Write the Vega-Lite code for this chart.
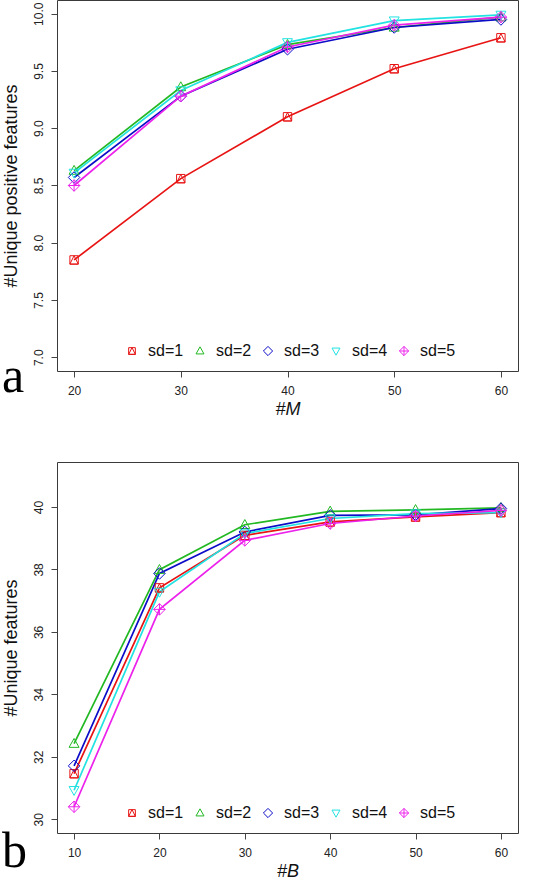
{
  "$schema": "https://vega.github.io/schema/vega-lite/v6.json",
  "padding": {"left": 1, "top": -1, "right": 0, "bottom": 0},
  "spacing": 42,
  "datasets": {
    "panelA": [
      {"M": 20, "sd": "sd=1", "value": 7.85}, {"M": 30, "sd": "sd=1", "value": 8.56}, {"M": 40, "sd": "sd=1", "value": 9.10}, {"M": 50, "sd": "sd=1", "value": 9.52}, {"M": 60, "sd": "sd=1", "value": 9.79},
      {"M": 20, "sd": "sd=2", "value": 8.63}, {"M": 30, "sd": "sd=2", "value": 9.36}, {"M": 40, "sd": "sd=2", "value": 9.73}, {"M": 50, "sd": "sd=2", "value": 9.88}, {"M": 60, "sd": "sd=2", "value": 9.97},
      {"M": 20, "sd": "sd=3", "value": 8.57}, {"M": 30, "sd": "sd=3", "value": 9.28}, {"M": 40, "sd": "sd=3", "value": 9.69}, {"M": 50, "sd": "sd=3", "value": 9.88}, {"M": 60, "sd": "sd=3", "value": 9.95},
      {"M": 20, "sd": "sd=4", "value": 8.61}, {"M": 30, "sd": "sd=4", "value": 9.33}, {"M": 40, "sd": "sd=4", "value": 9.75}, {"M": 50, "sd": "sd=4", "value": 9.94}, {"M": 60, "sd": "sd=4", "value": 9.99},
      {"M": 20, "sd": "sd=5", "value": 8.50}, {"M": 30, "sd": "sd=5", "value": 9.28}, {"M": 40, "sd": "sd=5", "value": 9.71}, {"M": 50, "sd": "sd=5", "value": 9.90}, {"M": 60, "sd": "sd=5", "value": 9.97}
    ],
    "panelB": [
      {"B": 10, "sd": "sd=1", "value": 31.46}, {"B": 20, "sd": "sd=1", "value": 37.41}, {"B": 30, "sd": "sd=1", "value": 39.09}, {"B": 40, "sd": "sd=1", "value": 39.52}, {"B": 50, "sd": "sd=1", "value": 39.68}, {"B": 60, "sd": "sd=1", "value": 39.82},
      {"B": 10, "sd": "sd=2", "value": 32.42}, {"B": 20, "sd": "sd=2", "value": 37.99}, {"B": 30, "sd": "sd=2", "value": 39.43}, {"B": 40, "sd": "sd=2", "value": 39.86}, {"B": 50, "sd": "sd=2", "value": 39.91}, {"B": 60, "sd": "sd=2", "value": 39.97},
      {"B": 10, "sd": "sd=3", "value": 31.71}, {"B": 20, "sd": "sd=3", "value": 37.87}, {"B": 30, "sd": "sd=3", "value": 39.20}, {"B": 40, "sd": "sd=3", "value": 39.73}, {"B": 50, "sd": "sd=3", "value": 39.75}, {"B": 60, "sd": "sd=3", "value": 39.95},
      {"B": 10, "sd": "sd=4", "value": 30.93}, {"B": 20, "sd": "sd=4", "value": 37.28}, {"B": 30, "sd": "sd=4", "value": 39.15}, {"B": 40, "sd": "sd=4", "value": 39.63}, {"B": 50, "sd": "sd=4", "value": 39.79}, {"B": 60, "sd": "sd=4", "value": 39.82},
      {"B": 10, "sd": "sd=5", "value": 30.40}, {"B": 20, "sd": "sd=5", "value": 36.72}, {"B": 30, "sd": "sd=5", "value": 38.93}, {"B": 40, "sd": "sd=5", "value": 39.47}, {"B": 50, "sd": "sd=5", "value": 39.71}, {"B": 60, "sd": "sd=5", "value": 39.89}
    ]
  },
  "vconcat": [
    {
      "width": 461,
      "height": 371,
      "data": {"name": "panelA"},
      "title": {"text": "a", "dy": -70},
      "encoding": {
        "x": {"field": "M", "type": "quantitative", "title": "#M",
              "scale": {"domain": [18.4, 61.6], "nice": false, "zero": false},
              "axis": {"values": [20, 30, 40, 50, 60]}},
        "y": {"field": "value", "type": "quantitative", "title": "#Unique positive features",
              "scale": {"domain": [6.88, 10.12], "nice": false, "zero": false},
              "axis": {"values": [7, 7.5, 8, 8.5, 9, 9.5, 10], "format": ".1f"}},
        "color": {"field": "sd", "type": "nominal",
          "scale": {"domain": ["sd=1", "sd=2", "sd=3", "sd=4", "sd=5"], "range": ["#e81414", "#22b822", "#0c0cc8", "#22e2e2", "#ec22ec"]},
          "legend": {"orient": "none", "legendX": 67, "legendY": 343, "direction": "horizontal", "title": null}}
      },
      "layer": [
        {"mark": {"type": "line", "strokeWidth": 1.7}},
        {"mark": {"type": "point", "filled": false, "size": 110, "strokeWidth": 1, "opacity": 1},
         "encoding": {
           "shape": {"field": "sd", "type": "nominal",
             "scale": {"domain": ["sd=1", "sd=2", "sd=3", "sd=4", "sd=5"],
                       "range": ["M-0.8,-0.8H0.8V0.8H-0.8Z M0,-0.8L0.8,0.8H-0.8Z", "M0,-1L0.95,0.7H-0.95Z", "M0,-1.1L1.1,0L0,1.1L-1.1,0Z", "M0,1L0.95,-0.7H-0.95Z", "M0,-1.1L1.1,0L0,1.1L-1.1,0Z M0,-1.1V1.1 M-1.1,0H1.1"]},
             "legend": {"orient": "none", "legendX": 67, "legendY": 343, "direction": "horizontal", "title": null}}}}
      ]
    },
    {
      "width": 461,
      "height": 371,
      "data": {"name": "panelB"},
      "title": {"text": "b", "dy": -57},
      "encoding": {
        "x": {"field": "B", "type": "quantitative", "title": "#B",
              "scale": {"domain": [8, 62], "nice": false, "zero": false},
              "axis": {"values": [10, 20, 30, 40, 50, 60]}},
        "y": {"field": "value", "type": "quantitative", "title": "#Unique features",
              "scale": {"domain": [29.56, 41.44], "nice": false, "zero": false},
              "axis": {"values": [30, 32, 34, 36, 38, 40]}},
        "color": {"field": "sd", "type": "nominal",
          "scale": {"domain": ["sd=1", "sd=2", "sd=3", "sd=4", "sd=5"], "range": ["#e81414", "#22b822", "#0c0cc8", "#22e2e2", "#ec22ec"]},
          "legend": {"orient": "none", "legendX": 67, "legendY": 343, "direction": "horizontal", "title": null}}
      },
      "layer": [
        {"mark": {"type": "line", "strokeWidth": 1.7}},
        {"mark": {"type": "point", "filled": false, "size": 110, "strokeWidth": 1, "opacity": 1},
         "encoding": {
           "shape": {"field": "sd", "type": "nominal",
             "scale": {"domain": ["sd=1", "sd=2", "sd=3", "sd=4", "sd=5"],
                       "range": ["M-0.8,-0.8H0.8V0.8H-0.8Z M0,-0.8L0.8,0.8H-0.8Z", "M0,-1L0.95,0.7H-0.95Z", "M0,-1.1L1.1,0L0,1.1L-1.1,0Z", "M0,1L0.95,-0.7H-0.95Z", "M0,-1.1L1.1,0L0,1.1L-1.1,0Z M0,-1.1V1.1 M-1.1,0H1.1"]},
             "legend": {"orient": "none", "legendX": 67, "legendY": 343, "direction": "horizontal", "title": null}}}}
      ]
    }
  ],
  "resolve": {"scale": {"color": "independent", "shape": "independent"}},
  "config": {
    "font": "Liberation Sans",
    "view": {"stroke": "#3a3a3a", "strokeWidth": 1},
    "axis": {"grid": false, "domain": false, "tickColor": "#444", "tickSize": 6, "labelFontSize": 12, "labelColor": "#222", "titleFontSize": 18, "titleFontWeight": "normal", "titleColor": "#111"},
    "axisX": {"labelPadding": 8, "titlePadding": 4, "titleFontStyle": "italic", "labelAngle": 0},
    "axisY": {"labelAngle": 270, "labelAlign": "center", "labelBaseline": "alphabetic", "labelPadding": 9, "titlePadding": 12},
    "legend": {"padding": 0, "labelFontSize": 16, "labelColor": "#111", "symbolSize": 70, "symbolStrokeWidth": 1, "labelOffset": 8, "columnPadding": 8},
    "title": {"orient": "bottom", "anchor": "start", "frame": "bounds", "font": "Liberation Serif", "fontSize": 50, "fontWeight": "normal", "baseline": "alphabetic", "offset": 0, "color": "#000"}
  }
}
